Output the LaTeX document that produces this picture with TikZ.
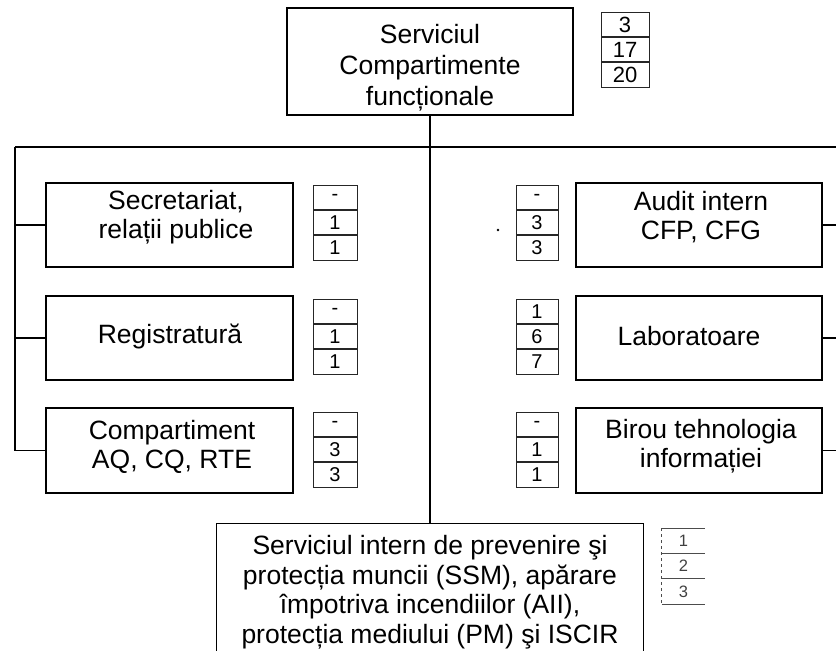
\documentclass[tikz,border=0pt]{standalone}
\usepackage{fontspec}
\setmainfont{Liberation Sans}
\begin{document}
\begin{tikzpicture}[x=1pt,y=-1pt,
  unit/.style={draw=black, line width=1.7pt, inner sep=0pt},
  leftunit/.style={unit, minimum width=247pt, minimum height=84pt},
  rightunit/.style={unit, minimum width=246pt, minimum height=84pt},
  caption/.style={align=center, inner sep=0pt, font=\fontsize{26.5}{29.5}\selectfont},
  cnt/.style={draw=black!85, line width=0.8pt, minimum width=44pt, minimum height=24.3pt,
              inner sep=0pt, anchor=north, font=\fontsize{20}{20}\selectfont},
  cntopen/.style={minimum width=43pt, minimum height=25pt, inner sep=0pt, anchor=north,
              text=black!75, font=\fontsize{16.5}{16.5}\selectfont},
  link/.style={line width=1.6pt}]
\useasboundingbox (0,0) rectangle (836,651);
\begin{scope}
\clip (0,0) rectangle (836,651);

% head unit
\node[unit, minimum width=286pt, minimum height=107pt] (top) at (430,61.5) {};
\node[caption, font=\fontsize{26.5}{31}\selectfont] (topT) at (430,68) {Serviciul\\Compartimente\\funcționale};
\node[cnt, minimum width=48pt, font=\fontsize{22}{22}\selectfont] (t1) at (625,12) {3};
\node[cnt, minimum width=48pt, font=\fontsize{22}{22}\selectfont] (t2) at (t1.south) {17};
\node[cnt, minimum width=48pt, font=\fontsize{22}{22}\selectfont] (t3) at (t2.south) {20};

% left column
\node[leftunit] (sec) at (169.5,225) {};
\node[caption] (secT) at (176,217) {Secretariat,\\relații publice};
\node[cnt] (s1) at (335,185) {-};
\node[cnt] (s2) at (s1.south) {1};
\node[cnt] (s3) at (s2.south) {1};

\node[leftunit] (reg) at (169.5,338) {};
\node[caption] (regT) at (170,336) {Registratură};
\node[cnt] (r1) at (335,299) {-};
\node[cnt] (r2) at (r1.south) {1};
\node[cnt] (r3) at (r2.south) {1};

\node[leftunit, minimum height=85pt] (comp) at (169.5,450.5) {};
\node[caption] (compT) at (172,447) {Compartiment\\AQ, CQ, RTE};
\node[cnt] (k1) at (335,412) {-};
\node[cnt] (k2) at (k1.south) {3};
\node[cnt] (k3) at (k2.south) {3};

% right column
\node[rightunit] (audit) at (699,225) {};
\node[caption] (auditT) at (701,217) {Audit intern\\CFP, CFG};
\node[cnt, minimum width=42pt] (a1) at (537,185) {-};
\node[cnt, minimum width=42pt] (a2) at (a1.south) {3};
\node[cnt, minimum width=42pt] (a3) at (a2.south) {3};
\node[circle, fill=black, inner sep=0pt, minimum size=2.6pt] (speck) at (498,230) {};

\node[rightunit] (lab) at (699,338) {};
\node[caption] (labT) at (689,336) {Laboratoare};
\node[cnt, minimum width=42pt] (l1) at (537,299) {1};
\node[cnt, minimum width=42pt] (l2) at (l1.south) {6};
\node[cnt, minimum width=42pt] (l3) at (l2.south) {7};

\node[rightunit, minimum height=85pt] (birou) at (699,450.5) {};
\node[caption] (birouT) at (701,446) {Birou tehnologia\\informației};
\node[cnt, minimum width=42pt] (b1) at (537,412) {-};
\node[cnt, minimum width=42pt] (b2) at (b1.south) {1};
\node[cnt, minimum width=42pt] (b3) at (b2.south) {1};

% safety unit at the foot
\node[unit, minimum width=427pt, minimum height=136pt] (bot) at (430,591.5) {};
\node[caption] (botT) at (430,592) {Serviciul intern de prevenire şi\\protecția muncii (SSM), apărare\\împotriva incendiilor (AII),\\protecția mediului (PM) şi ISCIR};
\node[cntopen] (f1) at (683.5,528) {1};
\node[cntopen] (f2) at (f1.south) {2};
\node[cntopen] (f3) at (f2.south) {3};
\draw[black!70, line width=0.8pt] (f1.north west) -- (f1.north east)
  (f2.north west) -- (f2.north east) (f3.north west) -- (f3.north east)
  (f3.south west) -- (f3.south east);
\draw[black!70, line width=0.8pt, dashed] (f1.north west) -- (f3.south west);

% connectors
\coordinate (busL) at (15,147);
\coordinate (busR) at (840,147);
\draw[link] (top.south) -- (bot.north);
\draw[link] (busL) -- (busR);
\draw[link] (busL) |- (comp.west);
\draw[link] (busL |- sec.west) -- (sec.west);
\draw[link] (busL |- reg.west) -- (reg.west);
\draw[link] (busR) |- (birou.east);
\draw[link] (audit.east) -- (audit.east -| busR);
\draw[link] (lab.east) -- (lab.east -| busR);
\end{scope}
\end{tikzpicture}
\end{document}
